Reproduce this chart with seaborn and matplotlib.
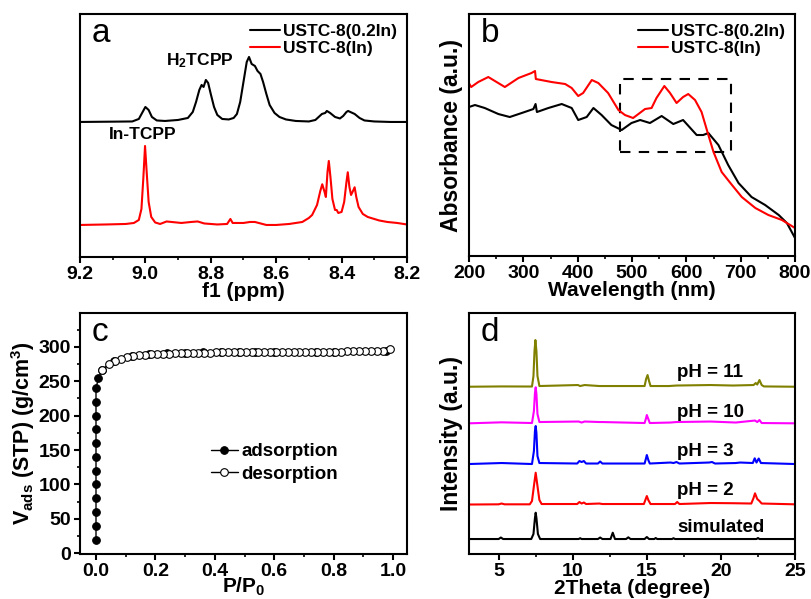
import numpy as np
import pandas as pd
import seaborn as sns
import matplotlib.pyplot as plt
from matplotlib.patches import Rectangle
from matplotlib.ticker import MultipleLocator, FormatStrFormatter

# ---- panel a: 1H NMR (ppm, arbitrary intensity) ----
nmr_02in_ppm = [9.20, 9.10, 9.04, 9.02, 9.01, 9.00, 8.99, 8.98, 8.965, 8.94, 8.90, 8.87,
                8.855, 8.845, 8.835, 8.828, 8.822, 8.815, 8.808, 8.80, 8.79, 8.78, 8.765,
                8.745, 8.73, 8.72, 8.71, 8.70, 8.69, 8.683, 8.675, 8.665, 8.657, 8.648,
                8.64, 8.63, 8.62, 8.605, 8.59, 8.57, 8.54, 8.50, 8.48, 8.47, 8.46, 8.45,
                8.445, 8.435, 8.42, 8.405, 8.395, 8.385, 8.38, 8.37, 8.36, 8.345, 8.33,
                8.30, 8.25, 8.20]
nmr_02in_int = [135, 135.3, 135.5, 138, 144, 150, 147, 140, 136.5, 136, 137, 139,
                145, 155, 167, 172, 170, 177, 174, 163, 150, 142, 138,
                137.5, 139, 143, 155, 175, 195, 200, 193, 191, 186, 183,
                175, 163, 152, 144, 140, 137.5, 136, 135.5, 137, 140, 143, 144,
                146, 144, 140, 138.5, 141, 145, 146, 144.5, 143, 139, 136.5,
                135.5, 135, 135]
nmr_in_ppm = [9.20, 9.12, 9.06, 9.035, 9.02, 9.012, 9.006, 9.001, 8.996, 8.99, 8.982,
              8.97, 8.955, 8.935, 8.92, 8.89, 8.86, 8.84, 8.82, 8.78, 8.75, 8.74, 8.733,
              8.70, 8.68, 8.665, 8.63, 8.60, 8.56, 8.52, 8.50, 8.49, 8.475, 8.465, 8.459,
              8.452, 8.448, 8.443, 8.439, 8.434, 8.428, 8.42, 8.415, 8.41, 8.40, 8.392,
              8.385, 8.381, 8.376, 8.371, 8.365, 8.36, 8.355, 8.348, 8.335, 8.32, 8.30,
              8.285, 8.26, 8.23, 8.20]
nmr_in_int = [32, 32.5, 33, 34, 37, 48, 80, 111, 85, 55, 40,
              34.5, 33, 35.5, 35, 34, 35, 35.5, 33.5, 32.5, 33, 38, 34,
              34, 35, 35, 32, 32, 33, 35, 39, 42, 52, 66, 72.7,
              65, 60, 85, 96, 80, 58, 47, 47, 44, 45, 55,
              75, 84.7, 70, 62, 66, 69.7, 60, 50, 43, 40, 38,
              36.5, 35, 34, 32.5]

# ---- panel b: UV-vis ----
uv_02in_nm = [200, 211, 229, 254, 275, 297, 318.5, 322.5, 325, 346, 370.6, 389, 401,
              416.6, 429, 444, 462, 481, 499, 515, 533, 554.5, 576, 594, 619, 631,
              640.5, 659, 677, 696, 720, 745, 770, 785, 797, 800]
uv_02in_abs = [149, 151, 148, 142, 139, 143, 147, 152, 144, 148, 152, 148, 136,
               139, 148, 141, 131, 126, 133, 136, 133, 140, 132, 136, 121, 121,
               123, 111, 91, 73, 59, 51, 41, 33, 21, 18]
uv_in_nm = [200, 204, 217, 235.5, 266, 291, 315, 321.5, 323, 352, 377, 389, 401, 410,
            426, 438, 456, 475, 487, 502, 524, 536, 545, 559.5, 570, 582, 594, 603.5,
            616, 628, 640.5, 650, 665, 684, 702, 727, 751, 776, 797, 800]
uv_in_abs = [172.7, 169, 174, 179, 169, 178, 183, 185, 177, 174, 172, 168, 160, 163,
             176, 173, 163, 146, 141, 138, 147, 148, 158, 170, 163, 153, 159, 162,
             156, 144, 121, 104, 84, 71, 59, 48, 41, 36, 29, 28]
box_nm = (477, 683)
box_abs = (104, 177)

# ---- panel c: N2 isotherm ----
ads_p = [0, 0, 0, 0, 0, 0, 0, 0, 0, 0, 0, 0, 0.008, 0.02, 0.06, 0.12, 0.18,
         0.24, 0.30, 0.36, 0.42, 0.48, 0.535, 0.60, 0.74, 0.80, 0.976]
ads_v = [20, 40, 60, 80, 100, 120, 140, 160, 180, 200, 220, 240, 254, 266, 279, 286, 289,
         291, 291, 292, 292, 292.5, 292.5, 293, 293, 293, 293.5]
des_p = [0.99, 0.965, 0.945, 0.925, 0.905, 0.885, 0.865, 0.845, 0.825, 0.805, 0.785,
         0.765, 0.745, 0.725, 0.705, 0.685, 0.665, 0.645, 0.625, 0.605, 0.585, 0.565,
         0.545, 0.525, 0.505, 0.485, 0.465, 0.445, 0.425, 0.405, 0.385, 0.365, 0.345,
         0.325, 0.305, 0.285, 0.265, 0.245, 0.225, 0.204, 0.184, 0.165, 0.145, 0.124,
         0.103, 0.084, 0.064, 0.045, 0.019]
des_v = [296.5, 294, 293.5, 293.5, 293.5, 293.5, 293.5, 293.5, 293, 293, 293,
         293, 293, 293, 293, 293, 293, 293, 293, 293, 292.5, 292.5,
         292.5, 292.5, 292.5, 292, 292, 292, 292, 292, 291.5, 291.5, 291,
         291, 291, 290.5, 290.5, 290, 290, 290, 289.5, 288.5, 288, 286,
         285, 282.5, 280, 274.8, 266.5]

# ---- panel d: PXRD ----
xrd_sim_2t = [3, 5.0, 5.15, 5.3, 7.2, 7.35, 7.45, 7.5, 7.55, 7.65, 7.8, 10.4, 10.5, 10.6,
              11.7, 11.85, 12.0, 12.55, 12.7, 12.85, 13.6, 13.75, 13.9, 14.85, 15.0,
              15.15, 15.5, 15.6, 15.7, 16.7, 16.8, 16.9, 22.4, 22.5, 22.6, 25]
xrd_sim_i = [17, 17, 18.5, 17, 17, 22, 38, 43.3, 38, 22, 17, 17, 17.8, 17,
             17, 18.5, 17, 17, 23.3, 17, 17, 18.7, 17, 17, 19,
             17, 17, 18, 17, 17, 17.8, 17, 17, 18, 17, 17]
xrd_ph2_2t = [3, 5.0, 5.2, 5.4, 7.1, 7.25, 7.38, 7.5, 7.62, 7.75, 7.9, 10.3, 10.45, 10.6,
              10.75, 10.9, 11.8, 12.0, 14.8, 14.9, 15.0, 15.1, 15.25, 16.9, 17.05, 17.2,
              19.3, 20.8, 22.05, 22.2, 22.3, 22.45, 22.6, 22.75, 25]
xrd_ph2_i = [51.5, 51.7, 52.5, 51.7, 51.7, 55, 70, 83.3, 70, 56, 52, 52, 54, 52.5,
             53.5, 52, 52.5, 52, 52, 56, 60, 56, 52, 52, 54, 52,
             53, 52.8, 52.5, 58, 62.7, 57, 55, 52.5, 51.7]
xrd_ph3_2t = [3, 5.2, 7.25, 7.38, 7.45, 7.5, 7.55, 7.62, 7.75, 10.3, 10.45, 10.6, 10.75,
              10.9, 11.7, 11.85, 12.0, 14.85, 14.95, 15.0, 15.1, 15.2, 16.6, 16.8, 17.0,
              17.2, 19.2, 19.4, 19.6, 21.0, 21.3, 22.15, 22.28, 22.4, 22.55, 22.7, 25]
xrd_ph3_i = [92, 93, 92, 105, 125, 130, 123, 100, 93, 92.5, 95, 94, 95,
             92.5, 92.5, 94.5, 92.5, 92.5, 98, 101, 96, 92.5, 93.5, 93, 94,
             92.5, 93.5, 94, 92.5, 93, 93.5, 93, 97.7, 93.5, 97.5, 93, 92]
xrd_ph10_2t = [3, 5.2, 7.25, 7.38, 7.45, 7.5, 7.55, 7.62, 7.75, 10.4, 10.6, 10.8, 11.8,
               12.0, 14.85, 14.95, 15.0, 15.1, 15.2, 16.6, 17.0, 19.3, 21.0, 22.3, 22.45,
               22.6, 22.75, 25]
xrd_ph10_i = [132.7, 133.7, 133, 145, 163, 168.7, 162, 142, 134, 134.5, 133.5, 134.5, 134,
              134, 133, 138, 141, 137, 133, 133.5, 134, 134.5, 133.5, 135.5, 134,
              136, 133, 132.7]
xrd_ph11_2t = [3, 5.2, 7.25, 7.35, 7.42, 7.48, 7.55, 7.62, 7.75, 10.35, 10.5, 10.8, 11.8,
               14.85, 14.95, 15.05, 15.15, 15.25, 16.5, 17.0, 19.3, 20.8, 22.2, 22.35,
               22.45, 22.6, 22.75, 22.9, 25]
xrd_ph11_i = [169.3, 169.6, 169.5, 180, 205, 216, 205, 180, 170, 171, 170, 171, 170,
              170, 177, 181, 175, 170, 170, 170.5, 171, 170.5, 171, 173,
              171.5, 176, 171, 169.6, 169.3]
xrd_labels = ['simulated', 'pH = 2', 'pH = 3', 'pH = 10', 'pH = 11']
xrd_label_y = [29, 66, 105, 144, 184]
xrd_colors = ['black', '#ff0000', '#0000ff', '#ff00ff', '#808000']

sns.set_theme(style='ticks')
plt.rcParams['font.family'] = ['Liberation Sans', 'DejaVu Sans']
plt.rcParams.update({
    'font.weight': 'bold', 'axes.labelweight': 'bold',
    'axes.linewidth': 1.5, 'axes.edgecolor': 'black', 'axes.labelcolor': 'black',
    'text.color': 'black', 'xtick.color': 'black', 'ytick.color': 'black',
    'xtick.major.width': 1.5, 'ytick.major.width': 1.5,
    'xtick.minor.width': 1.2, 'ytick.minor.width': 1.2,
    'xtick.major.size': 4, 'ytick.major.size': 4,
    'xtick.minor.size': 2.5, 'ytick.minor.size': 2.5,
    'xtick.major.pad': 2.5, 'ytick.major.pad': 2.5,
    'xtick.labelsize': 14, 'ytick.labelsize': 14, 'axes.labelsize': 15,
    'mathtext.fontset': 'custom', 'mathtext.rm': 'Liberation Sans:bold',
    'mathtext.it': 'Liberation Sans:bold', 'mathtext.bf': 'Liberation Sans:bold',
})

fig = plt.figure(figsize=(8.11, 5.99), dpi=100)
ax_a = fig.add_axes([0.0986, 0.571, 0.4032, 0.4057])
ax_b = fig.add_axes([0.5783, 0.5726, 0.402, 0.404])
ax_c = fig.add_axes([0.0986, 0.0751, 0.4032, 0.4023])
ax_d = fig.add_axes([0.5783, 0.0751, 0.402, 0.4023])

line_kw = dict(estimator=None, sort=False, linewidth=1.5)

# a
sns.lineplot(x=nmr_02in_ppm, y=nmr_02in_int, ax=ax_a, color='black', label='USTC-8(0.2In)', **line_kw)
sns.lineplot(x=nmr_in_ppm, y=nmr_in_int, ax=ax_a, color='#ff0000', label='USTC-8(In)', **line_kw)
ax_a.set_xlim(9.2, 8.2)
ax_a.set_ylim(0, 243)
ax_a.set_yticks([])
ax_a.xaxis.set_major_locator(MultipleLocator(0.2))
ax_a.xaxis.set_minor_locator(MultipleLocator(0.1))
ax_a.xaxis.set_major_formatter(FormatStrFormatter('%.1f'))
ax_a.set_xlabel('f1 (ppm)', labelpad=-1)
ax_a.text(8.833, 196, r'H$_\mathrm{2}$TCPP', ha='center', va='center', fontsize=12.5)
ax_a.text(9.007, 122, 'In-TCPP', ha='center', va='center', fontsize=12.5)
ax_a.legend(loc='upper right', frameon=False, fontsize=12.5, handlelength=1.7,
            handletextpad=0.2, labelspacing=0.15, borderaxespad=0.15)

# b
sns.lineplot(x=uv_02in_nm, y=uv_02in_abs, ax=ax_b, color='black', label='USTC-8(0.2In)', **line_kw)
sns.lineplot(x=uv_in_nm, y=uv_in_abs, ax=ax_b, color='#ff0000', label='USTC-8(In)', **line_kw)
ax_b.add_patch(Rectangle((box_nm[0], box_abs[0]), box_nm[1] - box_nm[0], box_abs[1] - box_abs[0],
                         fill=False, edgecolor='black', linewidth=1.5, linestyle=(0, (5, 4))))
ax_b.set_xlim(200, 800)
ax_b.set_ylim(0, 242)
ax_b.set_yticks([])
ax_b.xaxis.set_major_locator(MultipleLocator(100))
ax_b.xaxis.set_minor_locator(MultipleLocator(50))
ax_b.set_xlabel('Wavelength (nm)', labelpad=-1)
ax_b.set_ylabel('Absorbance (a.u.)', labelpad=4, fontsize=16.5)
ax_b.legend(loc='upper right', frameon=False, fontsize=12.5, handlelength=1.7,
            handletextpad=0.2, labelspacing=0.15, borderaxespad=0.15)

# c
sns.lineplot(x=ads_p, y=ads_v, ax=ax_c, color='black', marker='o', markersize=5.5,
             markerfacecolor='black', markeredgecolor='black', label='adsorption',
             estimator=None, sort=False, linewidth=1.0)
sns.lineplot(x=des_p, y=des_v, ax=ax_c, color='black', marker='o', markersize=5.5,
             markerfacecolor='white', markeredgecolor='black', markeredgewidth=0.8,
             label='desorption', estimator=None, sort=False, linewidth=1.0)
ax_c.set_xlim(-0.054, 1.047)
ax_c.set_ylim(-1, 349)
ax_c.xaxis.set_major_locator(MultipleLocator(0.2))
ax_c.xaxis.set_minor_locator(MultipleLocator(0.1))
ax_c.xaxis.set_major_formatter(FormatStrFormatter('%.1f'))
ax_c.yaxis.set_major_locator(MultipleLocator(50))
ax_c.yaxis.set_minor_locator(MultipleLocator(25))
ax_c.set_xlabel(r'P/P$_\mathrm{0}$', labelpad=-3, fontsize=15)
ax_c.set_ylabel(r'V$_\mathrm{ads}$ (STP) (g/cm$^\mathrm{3}$)', labelpad=1, fontsize=15.5)
ax_c.legend(loc='upper left', bbox_to_anchor=(0.35, 0.53), frameon=False, fontsize=13.5,
            handlelength=1.4, handletextpad=0.2, labelspacing=0.3)

# d
xrd_x = [xrd_sim_2t, xrd_ph2_2t, xrd_ph3_2t, xrd_ph10_2t, xrd_ph11_2t]
xrd_y = [xrd_sim_i, xrd_ph2_i, xrd_ph3_i, xrd_ph10_i, xrd_ph11_i]
for xs, ys, col, lab, ly in zip(xrd_x, xrd_y, xrd_colors, xrd_labels, xrd_label_y):
    sns.lineplot(x=xs, y=ys, ax=ax_d, color=col, **line_kw)
    ax_d.text(17.05, ly, lab, ha='left', va='center', fontsize=13.5)
ax_d.set_xlim(3, 25)
ax_d.set_ylim(2, 243)
ax_d.set_yticks([])
ax_d.xaxis.set_major_locator(MultipleLocator(5))
ax_d.xaxis.set_minor_locator(MultipleLocator(2.5))
ax_d.set_xlabel('2Theta (degree)', labelpad=-1)
ax_d.set_ylabel('Intensity (a.u.)', labelpad=4, fontsize=16.5)

for ax, letter in zip([ax_a, ax_b, ax_c, ax_d], 'abcd'):
    ax.text(0.035, 0.985, letter, transform=ax.transAxes, ha='left', va='top',
            fontsize=24, fontweight='normal')
    for side in ['top', 'right', 'left', 'bottom']:
        ax.spines[side].set_visible(True)
        ax.spines[side].set_linewidth(1.5)
    ax.tick_params(which='both', direction='out', top=False, right=False)

fig.savefig('out.png', dpi=100)
